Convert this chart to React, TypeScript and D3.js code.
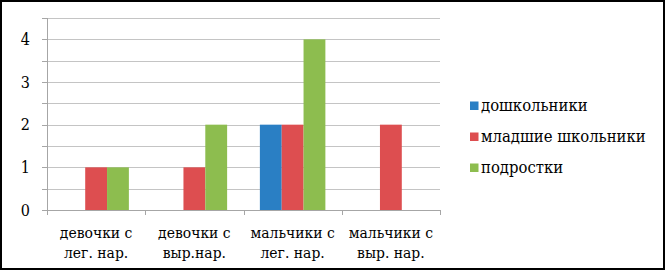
import React from "react";
import * as d3 from "d3";

const categories: string[][] = [
  ["девочки с", "лег. нар."],
  ["девочки с", "выр.нар."],
  ["мальчики с", "лег. нар."],
  ["мальчики с", "выр. нар."],
];
const seriesNames = ["дошкольники", "младшие школьники", "подростки"];
const seriesColors = ["#2a7fc4", "#dd4e50", "#8dbd4f"];
const preschool = [0, 0, 2, 0];
const juniors = [1, 1, 2, 2];
const teens = [1, 2, 4, 0];
const yTickLabels = [0, 1, 2, 3, 4];
const yGridValues = [0, 0.5, 1, 1.5, 2, 2.5, 3, 3.5, 4, 4.5];

const W = 665;
const H = 270;
const FONT = "'DejaVu Serif Condensed', 'DejaVu Serif', serif";

export default function App() {
  const seriesValues = [preschool, juniors, teens];
  const x0 = 47;
  const x1 = 440;
  const y = d3.scaleLinear().domain([0, 4.5]).range([210, 18]);
  const xBand = d3
    .scaleBand<number>()
    .domain(categories.map((_, i) => i))
    .range([x0, x1])
    .paddingInner(0)
    .paddingOuter(0);
  const bw = xBand.bandwidth();
  const barW = bw / (3 + 1.5);
  const xTicks = d3.range(categories.length + 1).map((i) => x0 + i * bw);

  return (
    <svg
      width={W}
      height={H}
      style={{ position: "absolute", left: 0, top: 0, background: "#fff" }}
      fontFamily={FONT}
    >
      <rect x={0} y={0} width={W} height={H} fill="#fff" />
      {yGridValues.map((v) => (
        <g key={"g" + v}>
          <line
            x1={x0}
            x2={x1}
            y1={Math.round(y(v)) + 0.5}
            y2={Math.round(y(v)) + 0.5}
            stroke={v === 0 ? "#a6a6a6" : "#c4c4c4"}
            strokeWidth={1}
          />
          <line
            x1={x0 - 5}
            x2={x0}
            y1={Math.round(y(v)) + 0.5}
            y2={Math.round(y(v)) + 0.5}
            stroke="#a6a6a6"
          />
        </g>
      ))}
      <line x1={x0 + 0.5} x2={x0 + 0.5} y1={y(4.5)} y2={y(0)} stroke="#a6a6a6" />
      {xTicks.map((t, i) => (
        <line
          key={"t" + i}
          x1={Math.round(t) + 0.5}
          x2={Math.round(t) + 0.5}
          y1={y(0)}
          y2={y(0) + 5}
          stroke="#a6a6a6"
        />
      ))}
      {seriesValues.map((vals, s) =>
        vals.map((v, i) =>
          v > 0 ? (
            <rect
              key={`b${s}-${i}`}
              x={(xBand(i) as number) + 0.75 * barW + s * barW}
              y={y(v)}
              width={barW}
              height={y(0) - y(v)}
              fill={seriesColors[s]}
            />
          ) : null
        )
      )}
      {yTickLabels.map((v) => (
        <text
          key={"y" + v}
          x={30}
          y={y(v)}
          dy="0.35em"
          textAnchor="end"
          fontSize={16}
          fill="#000"
        >
          {v}
        </text>
      ))}
      {categories.map((lines, i) => (
        <text
          key={"c" + i}
          x={(xBand(i) as number) + bw / 2}
          textAnchor="middle"
          fontSize={15.5}
          fill="#000"
        >
          <tspan x={(xBand(i) as number) + bw / 2} y={238}>
            {lines[0]}
          </tspan>
          <tspan x={(xBand(i) as number) + bw / 2} y={258}>
            {lines[1]}
          </tspan>
        </text>
      ))}
      {seriesNames.map((name, s) => {
        const cy = 105.5 + s * 31;
        return (
          <g key={"l" + s}>
            <rect x={470} y={cy - 4} width={8.5} height={8.5} fill={seriesColors[s]} />
            <text x={481} y={cy} dy="0.35em" fontSize={16.5} fill="#000">
              {name}
            </text>
          </g>
        );
      })}
      <rect x={1} y={1} width={W - 2} height={H - 2} fill="none" stroke="#000" strokeWidth={2} />
    </svg>
  );
}
